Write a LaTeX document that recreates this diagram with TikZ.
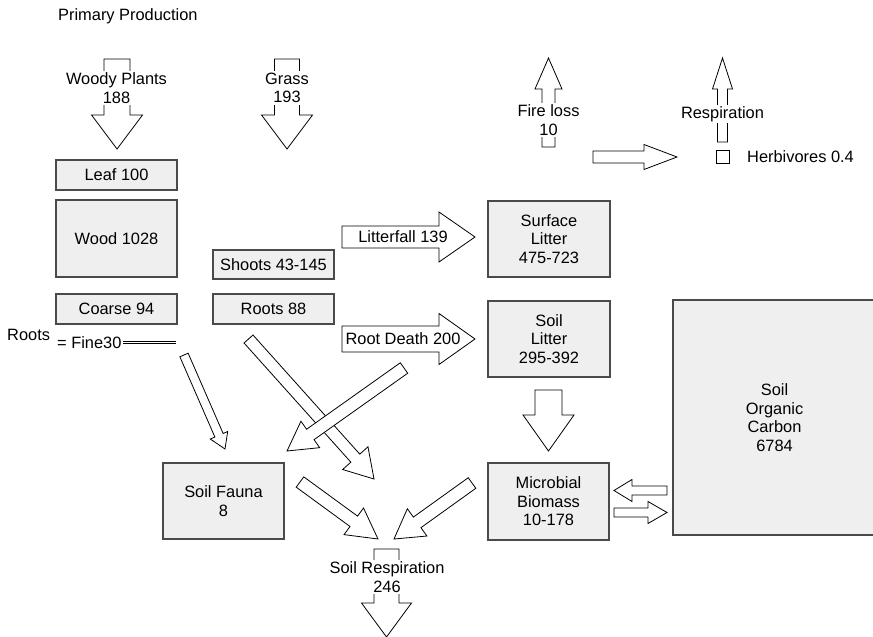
\documentclass[tikz,border=0pt]{standalone}
\usepackage{fontspec}
\setmainfont{Liberation Sans}
\usepackage{xcolor}
\usetikzlibrary{calc}
\definecolor{poolc}{HTML}{EFEFEF}
\definecolor{edgec}{HTML}{4A4A4A}
\tikzset{
  pool/.style={draw=edgec, line width=1.2pt, fill=poolc, align=center, inner sep=0pt},
  flow/.style={draw=black, line width=0.8pt, fill=white, line join=miter},
  tag/.style={fill=white, align=center, inner sep=1.5pt},
  plain/.style={inner sep=0pt},
}
\newcommand{\flowarrow}[5]{%
  \coordinate (fh) at ($(#2)!#5!(#1)$);
  \draw[flow] ($(#1)!#3!90:(#2)$) -- ($(fh)!#3!90:(#2)$) -- ($(fh)!#4!90:(#2)$) -- (#2)
    -- ($(fh)!#4!-90:(#2)$) -- ($(fh)!#3!-90:(#2)$) -- ($(#1)!#3!-90:(#2)$) -- cycle;
}

\begin{document}
\begin{tikzpicture}[x=1pt, y=-1pt, font=\fontsize{16.4}{18.5}\selectfont]
\useasboundingbox (0,0) rectangle (873,637);
\node[plain, anchor=base west] (primary) at (58,20) {Primary Production};
\node[pool, minimum width=121pt, minimum height=30pt] (leaf) at (116.5,175) {Leaf 100};
\node[pool, minimum width=121pt, minimum height=77pt] (wood) at (116.5,238.5) {Wood 1028};
\node[pool, minimum width=121pt, minimum height=30pt] (coarse) at (116.5,309) {Coarse 94};
\node[pool, minimum width=121pt, minimum height=29pt] (shoots) at (273.5,264.5) {Shoots 43-145};
\node[pool, minimum width=121pt, minimum height=30pt] (roots) at (273.5,309) {Roots 88};
\node[pool, minimum width=122pt, minimum height=76pt] (surflit) at (549,239) {Surface\\Litter\\475-723};
\node[pool, minimum width=122pt, minimum height=76pt] (soillit) at (549,339) {Soil\\Litter\\295-392};
\node[pool, minimum width=121pt, minimum height=77pt] (microb) at (548.5,501.5) {Microbial\\Biomass\\10-178};
\node[pool, minimum width=121pt, minimum height=76pt] (fauna) at (223.5,501) {Soil Fauna\\8};
\node[pool, minimum width=203pt, minimum height=235pt] (soc) at (774.5,417.5) {Soil\\Organic\\Carbon\\6784};
\node[draw, line width=0.8pt, minimum size=13pt, inner sep=0pt] (herb) at (722.5,156.5) {};
\node[plain, anchor=west] (herblbl) at (747,157) {Herbivores 0.4};
\node[plain, anchor=west] (rootslbl) at (7,335) {Roots};
\node[plain, anchor=west] (finelbl) at (57,343) {= Fine30};
\coordinate (fine-a) at (123,342.5);
\coordinate (fine-b) at (176,342.5);
\draw[double, line width=0.8pt, double distance=1.8pt] (fine-a) -- (fine-b);
\coordinate (wp-in) at (117,59);
\coordinate (wp-out) at (117,149);
\coordinate (gr-in) at (287,59);
\coordinate (gr-out) at (287,149);
\coordinate (fire-in) at (548.5,147);
\coordinate (fire-out) at (548.5,58);
\coordinate (resp-in) at (722.5,142);
\coordinate (resp-out) at (722.5,58);
\coordinate (herb-in) at (593,157);
\coordinate (herb-out) at (677,157);
\coordinate (fall-in) at (342,237);
\coordinate (fall-out) at (475,237);
\coordinate (death-in) at (342,339);
\coordinate (death-out) at (475,339);
\coordinate (lit-in) at (548.5,390);
\coordinate (lit-out) at (548.5,451);
\coordinate (socmb-in) at (667,490.5);
\coordinate (socmb-out) at (614,490.5);
\coordinate (mbsoc-in) at (614,512.5);
\coordinate (mbsoc-out) at (667,512.5);
\coordinate (fine-in) at (184,355);
\coordinate (fine-out) at (225,449);
\coordinate (rt-in) at (248.5,339);
\coordinate (rt-out) at (374,479);
\coordinate (lf-in) at (404,368);
\coordinate (lf-out) at (287,451);
\coordinate (fa-in) at (300,482);
\coordinate (fa-out) at (378,539);
\coordinate (mb-in) at (472,483);
\coordinate (mb-out) at (394,539);
\coordinate (sr-in) at (386.5,549);
\coordinate (sr-out) at (386.5,637);
\flowarrow{wp-in}{wp-out}{13pt}{25.5pt}{34pt}
\flowarrow{gr-in}{gr-out}{12.5pt}{25.5pt}{34pt}
\flowarrow{fire-in}{fire-out}{6.5pt}{13.5pt}{31pt}
\flowarrow{resp-in}{resp-out}{5pt}{10pt}{31pt}
\flowarrow{herb-in}{herb-out}{6pt}{12.5pt}{33pt}
\flowarrow{fall-in}{fall-out}{11pt}{25pt}{36pt}
\flowarrow{death-in}{death-out}{13pt}{25.5pt}{36pt}
\flowarrow{lit-in}{lit-out}{13.5pt}{25.5pt}{36pt}
\flowarrow{socmb-in}{socmb-out}{4.5pt}{11pt}{18pt}
\flowarrow{mbsoc-in}{mbsoc-out}{4.5pt}{11pt}{19pt}
\flowarrow{fine-in}{fine-out}{4.5pt}{9.5pt}{15pt}
\flowarrow{rt-in}{rt-out}{6pt}{17pt}{28pt}
\flowarrow{lf-in}{lf-out}{6.4pt}{16.2pt}{28.6pt}
\flowarrow{fa-in}{fa-out}{6.4pt}{16.5pt}{30pt}
\flowarrow{mb-in}{mb-out}{6.5pt}{16.8pt}{28.5pt}
\flowarrow{sr-in}{sr-out}{12.5pt}{25pt}{34pt}
\node[tag] (woodylbl) at (116.5,88) {Woody Plants\\188};
\node[tag] (grasslbl) at (287,88) {Grass\\193};
\node[tag] (firelbl) at (548.5,120) {Fire loss\\10};
\node[tag] (resplbl) at (722.5,114) {Respiration};
\node[tag] (soilresplbl) at (387,577) {Soil Respiration\\246};
\node[plain] (falllbl) at (403,237) {Litterfall 139};
\node[plain] (deathlbl) at (403,339) {Root Death 200};
\end{tikzpicture}
\end{document}
